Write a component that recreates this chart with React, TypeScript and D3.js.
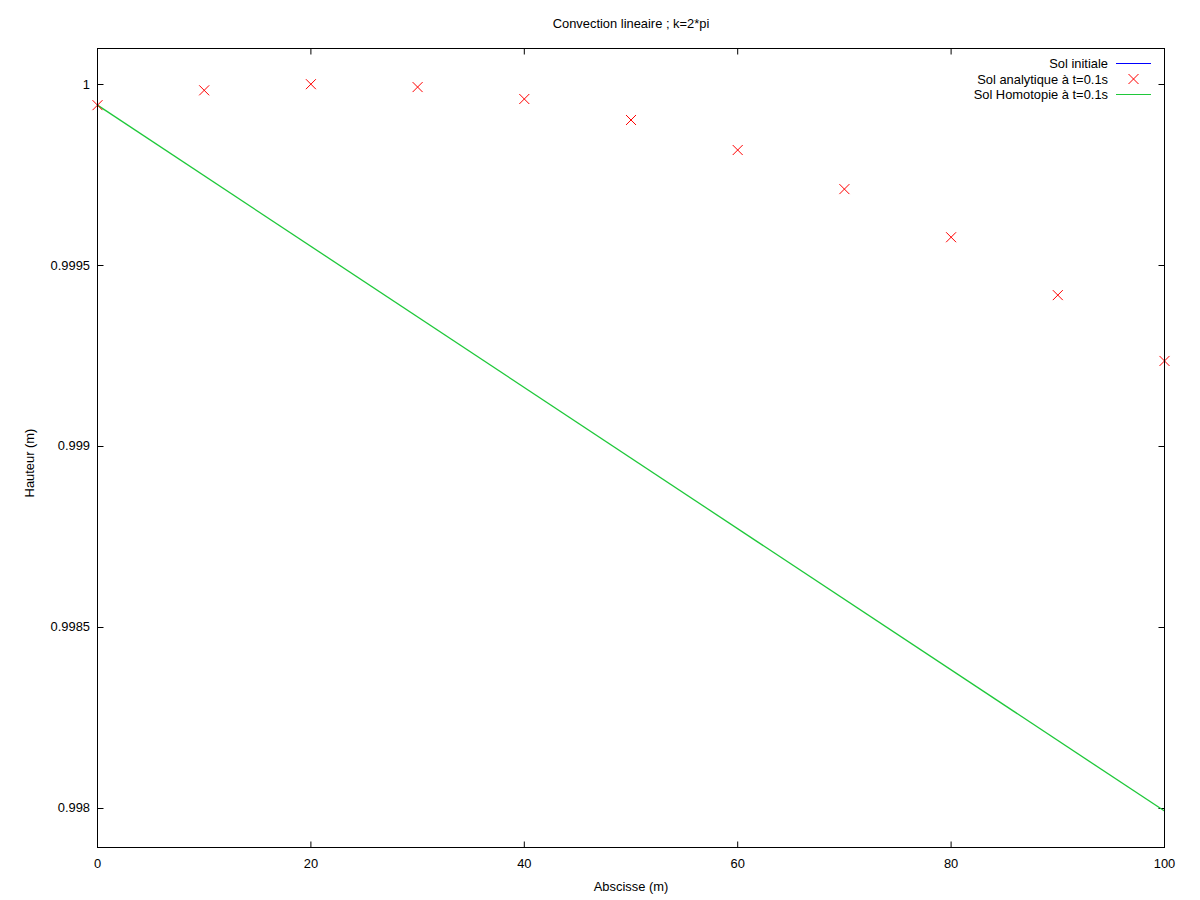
import React from "react";
import * as d3 from "d3";

const analyticX = [0, 10, 20, 30, 40, 50, 60, 70, 80, 90, 100];
const analyticY = [0.999942, 0.999983, 1.0, 0.999992, 0.999959, 0.999901, 0.999818, 0.99971, 0.999577, 0.999417, 0.999235];
const homotopieX = [0, 100];
const homotopieY = [0.999942, 0.997991];
const xTicks = [0, 20, 40, 60, 80, 100];
const yTicks = [0.998, 0.9985, 0.999, 0.9995, 1];
const yTickLabels = ["0.998", "0.9985", "0.999", "0.9995", "1"];
const legendLabels = ["Sol initiale", "Sol analytique à t=0.1s", "Sol Homotopie à t=0.1s"];

const W = 1200, H = 900;
const L = 97.5, R = 1164.5, T = 48.5, B = 847.5;
const FONT = "'Liberation Sans', Arial, sans-serif";
const FS = 12.9;

export default function App() {
  const x = d3.scaleLinear().domain([0, 100]).range([L, R]);
  const y = d3.scaleLinear().domain([0.9978903, 1.0000986]).range([B, T]);
  const line = d3.line<number>().x((_, i) => x(homotopieX[i])).y((d) => y(d));
  const green = "#1fc83a";
  return (
    <svg width={W} height={H} style={{ position: "absolute", left: 0, top: 0 }} fontFamily={FONT}>
      <rect width={W} height={H} fill="#fff" />
      <text x={631} y={28} fontSize={FS} textAnchor="middle">Convection lineaire ; k=2*pi</text>
      {xTicks.map((t) => (
        <g key={"x" + t}>
          <line x1={x(t)} x2={x(t)} y1={B} y2={B - 6} stroke="#000" />
          <line x1={x(t)} x2={x(t)} y1={T} y2={T + 6} stroke="#000" />
          <text x={x(t)} y={868} fontSize={FS} textAnchor="middle">{t}</text>
        </g>
      ))}
      {yTicks.map((t, i) => (
        <g key={"y" + t}>
          <line x1={L} x2={L + 6} y1={Math.round(y(t)) + 0.5} y2={Math.round(y(t)) + 0.5} stroke="#000" />
          <line x1={R} x2={R - 6} y1={Math.round(y(t)) + 0.5} y2={Math.round(y(t)) + 0.5} stroke="#000" />
          <text x={90} y={y(t) + 4.5} fontSize={FS} textAnchor="end">{yTickLabels[i]}</text>
        </g>
      ))}
      <path d={line(homotopieY) || ""} fill="none" stroke={green} strokeWidth={1.3} />
      {analyticX.map((v, i) => {
        const cx = x(v), cy = y(analyticY[i]);
        return (
          <path key={"p" + i} d={`M${cx - 5},${cy - 5}L${cx + 5},${cy + 5}M${cx - 5},${cy + 5}L${cx + 5},${cy - 5}`} stroke="#ff0000" strokeWidth={1} fill="none" />
        );
      })}
      <rect x={L} y={T} width={R - L} height={B - T} fill="none" stroke="#000" strokeWidth={1} />
      {legendLabels.map((lab, i) => {
        const ly = 63.5 + i * 15.5;
        return (
          <g key={"l" + i}>
            <text x={1108} y={ly + 4.5} fontSize={FS} textAnchor="end">{lab}</text>
            {i === 0 && <line x1={1116} x2={1151} y1={ly} y2={ly} stroke="#0000ff" strokeWidth={1.2} />}
            {i === 1 && <path d={`M${1133.5 - 5},${ly - 5}L${1133.5 + 5},${ly + 5}M${1133.5 - 5},${ly + 5}L${1133.5 + 5},${ly - 5}`} stroke="#ff0000" fill="none" />}
            {i === 2 && <line x1={1116} x2={1151} y1={ly} y2={ly} stroke={green} strokeWidth={1.2} />}
          </g>
        );
      })}
      <text x={631} y={891} fontSize={FS} textAnchor="middle">Abscisse (m)</text>
      <text transform={`translate(34,463) rotate(-90)`} fontSize={FS} textAnchor="middle">Hauteur (m)</text>
    </svg>
  );
}
